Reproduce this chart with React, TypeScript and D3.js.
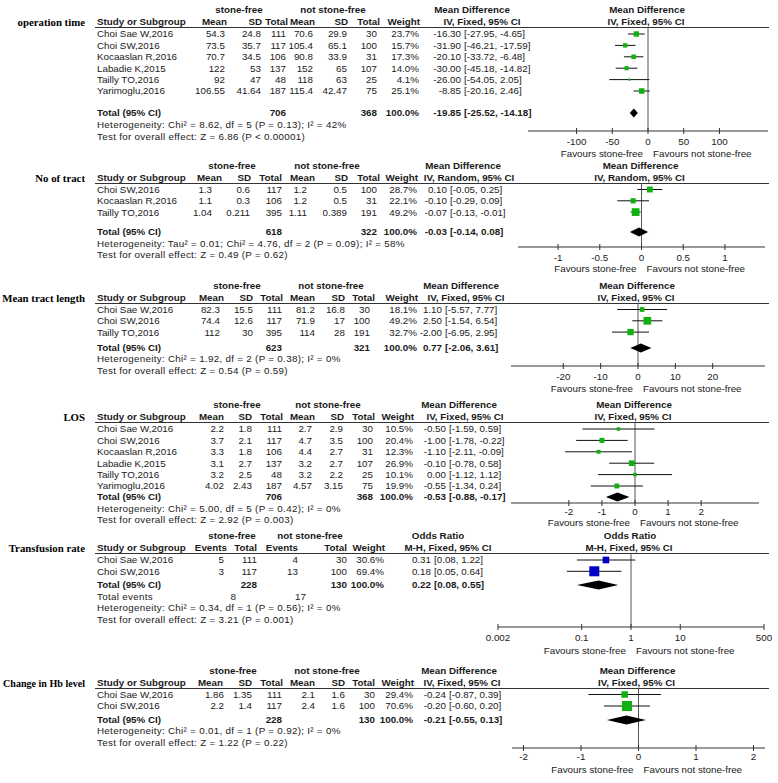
import React from "react";
import * as d3 from "d3";

const SANS = "Arial, 'Liberation Sans', Helvetica, sans-serif";
const SERIF = "'Times New Roman', 'Liberation Serif', serif";
const FS = 9.8;
const TXT = "#1a1a1a";
const GREEN = "#10b010";
const BLUE = "#0000c8";

// ---------- operation time ----------
const opStudy = ["Choi Sae W,2016", "Choi SW,2016", "Kocaaslan R,2016", "Labadie K,2015", "Tailly TO,2016", "Yarimoglu,2016"];
const opM1 = [54.3, 73.5, 70.7, 122, 92, 106.55];
const opS1 = [24.8, 35.7, 34.5, 53, 47, 41.64];
const opN1 = [111, 117, 106, 137, 48, 187];
const opM2 = [70.6, 105.4, 90.8, 152, 118, 115.4];
const opS2 = [29.9, 65.1, 33.9, 65, 63, 42.47];
const opN2 = [30, 100, 31, 107, 25, 75];
const opW = [23.7, 15.7, 17.3, 14.0, 4.1, 25.1];
const opEst = [-16.3, -31.9, -20.1, -30.0, -26.0, -8.85];
const opLo = [-27.95, -46.21, -33.72, -45.18, -54.05, -20.16];
const opHi = [-4.65, -17.59, -6.48, -14.82, 2.05, 2.46];
const opTotN = [706, 368];
const opTotEst = [-19.85, -25.52, -14.18];
const opHet = "Heterogeneity: Chi² = 8.62, df = 5 (P = 0.13); I² = 42%";
const opTest = "Test for overall effect: Z = 6.86 (P < 0.00001)";
const opTicks = [-100, -50, 0, 50, 100];

// ---------- No of tract ----------
const ntStudy = ["Choi SW,2016", "Kocaaslan R,2016", "Tailly TO,2016"];
const ntM1 = [1.3, 1.1, 1.04];
const ntS1 = [0.6, 0.3, 0.211];
const ntN1 = [117, 106, 395];
const ntM2 = [1.2, 1.2, 1.11];
const ntS2 = [0.5, 0.5, 0.389];
const ntN2 = [100, 31, 191];
const ntW = [28.7, 22.1, 49.2];
const ntEst = [0.1, -0.1, -0.07];
const ntLo = [-0.05, -0.29, -0.13];
const ntHi = [0.25, 0.09, -0.01];
const ntTotN = [618, 322];
const ntTotEst = [-0.03, -0.14, 0.08];
const ntHet = "Heterogeneity: Tau² = 0.01; Chi² = 4.76, df = 2 (P = 0.09); I² = 58%";
const ntTest = "Test for overall effect: Z = 0.49 (P = 0.62)";
const ntTicks = [-1, -0.5, 0, 0.5, 1];

// ---------- Mean tract length ----------
const mtStudy = ["Choi Sae W,2016", "Choi SW,2016", "Tailly TO,2016"];
const mtM1 = [82.3, 74.4, 112];
const mtS1 = [15.5, 12.6, 30];
const mtN1 = [111, 117, 395];
const mtM2 = [81.2, 71.9, 114];
const mtS2 = [16.8, 17, 28];
const mtN2 = [30, 100, 191];
const mtW = [18.1, 49.2, 32.7];
const mtEst = [1.1, 2.5, -2.0];
const mtLo = [-5.57, -1.54, -6.95];
const mtHi = [7.77, 6.54, 2.95];
const mtTotN = [623, 321];
const mtTotEst = [0.77, -2.06, 3.61];
const mtHet = "Heterogeneity: Chi² = 1.92, df = 2 (P = 0.38); I² = 0%";
const mtTest = "Test for overall effect: Z = 0.54 (P = 0.59)";
const mtTicks = [-20, -10, 0, 10, 20];

// ---------- LOS ----------
const losStudy = ["Choi Sae W,2016", "Choi SW,2016", "Kocaaslan R,2016", "Labadie K,2015", "Tailly TO,2016", "Yarimoglu,2016"];
const losM1 = [2.2, 3.7, 3.3, 3.1, 3.2, 4.02];
const losS1 = [1.8, 2.1, 1.8, 2.7, 2.5, 2.43];
const losN1 = [111, 117, 106, 137, 48, 187];
const losM2 = [2.7, 4.7, 4.4, 3.2, 3.2, 4.57];
const losS2 = [2.9, 3.5, 2.7, 2.7, 2.2, 3.15];
const losN2 = [30, 100, 31, 107, 25, 75];
const losW = [10.5, 20.4, 12.3, 26.9, 10.1, 19.9];
const losEst = [-0.5, -1.0, -1.1, -0.1, 0.0, -0.55];
const losLo = [-1.59, -1.78, -2.11, -0.78, -1.12, -1.34];
const losHi = [0.59, -0.22, -0.09, 0.58, 1.12, 0.24];
const losTotN = [706, 368];
const losTotEst = [-0.53, -0.88, -0.17];
const losHet = "Heterogeneity: Chi² = 5.00, df = 5 (P = 0.42); I² = 0%";
const losTest = "Test for overall effect: Z = 2.92 (P = 0.003)";
const losTicks = [-2, -1, 0, 1, 2];

// ---------- Transfusion rate ----------
const trStudy = ["Choi Sae W,2016", "Choi SW,2016"];
const trE1 = [5, 3];
const trN1 = [111, 117];
const trE2 = [4, 13];
const trN2 = [30, 100];
const trW = [30.6, 69.4];
const trEst = [0.31, 0.18];
const trLo = [0.08, 0.05];
const trHi = [1.22, 0.64];
const trTotN = [228, 130];
const trTotEst = [0.22, 0.08, 0.55];
const trTotEvents = [8, 17];
const trHet = "Heterogeneity: Chi² = 0.34, df = 1 (P = 0.56); I² = 0%";
const trTest = "Test for overall effect: Z = 3.21 (P = 0.001)";
const trTicks = [0.002, 0.1, 1, 10, 500];

// ---------- Change in Hb level ----------
const hbStudy = ["Choi Sae W,2016", "Choi SW,2016"];
const hbM1 = [1.86, 2.2];
const hbS1 = [1.35, 1.4];
const hbN1 = [111, 117];
const hbM2 = [2.1, 2.4];
const hbS2 = [1.6, 1.6];
const hbN2 = [30, 100];
const hbW = [29.4, 70.6];
const hbEst = [-0.24, -0.2];
const hbLo = [-0.87, -0.6];
const hbHi = [0.39, 0.2];
const hbTotN = [228, 130];
const hbTotEst = [-0.21, -0.55, 0.13];
const hbHet = "Heterogeneity: Chi² = 0.01, df = 1 (P = 0.92); I² = 0%";
const hbTest = "Test for overall effect: Z = 1.22 (P = 0.22)";
const hbTicks = [-2, -1, 0, 1, 2];

type Col = { h: string; hx: number; dx: number; v: number[]; tot?: number };
type Extra = { t: string; vals?: { v: number; x: number }[] };
type Cfg = {
  label: string;
  labelLen?: number;
  groups: { t: string; x: number }[];
  cols: Col[];
  study: string[];
  w: number[];
  est: number[];
  lo: number[];
  hi: number[];
  totEst: number[];
  wx: number;
  ex: number;
  eh1x: number;
  eh2x: number;
  eh1: string;
  eh2: string;
  extra: Extra[];
  ticks: number[];
  log?: boolean;
  domain: [number, number];
  range: [number, number];
  top: number;
  s0: number;
  step: number;
  totalY: number;
  extraY: number[];
  axisY: number;
  tickY: number;
  favY: number;
  color: string;
  boxK: number;
};

const mdCols = (
  m1: number[], s1: number[], n1: number[], m2: number[], s2: number[], n2: number[],
  tot: number[], pos: number[][]
): Col[] => [
  { h: "Mean", hx: pos[0][0], dx: pos[0][1], v: m1 },
  { h: "SD", hx: pos[1][0], dx: pos[1][1], v: s1 },
  { h: "Total", hx: pos[2][0], dx: pos[2][1], v: n1, tot: tot[0] },
  { h: "Mean", hx: pos[3][0], dx: pos[3][1], v: m2 },
  { h: "SD", hx: pos[4][0], dx: pos[4][1], v: s2 },
  { h: "Total", hx: pos[5][0], dx: pos[5][1], v: n2, tot: tot[1] },
];

const panels: Cfg[] = [
  {
    label: "operation time",
    groups: [{ t: "stone-free", x: 239 }, { t: "not stone-free", x: 333 }],
    cols: mdCols(opM1, opS1, opN1, opM2, opS2, opN2, opTotN, [[227, 225], [262, 261], [288, 286], [315, 313], [348, 347], [380, 377]]),
    study: opStudy, w: opW, est: opEst, lo: opLo, hi: opHi, totEst: opTotEst,
    wx: 419, ex: 461, eh1x: 472, eh2x: 482, eh1: "Mean Difference", eh2: "IV, Fixed, 95% CI",
    extra: [{ t: opHet }, { t: opTest }],
    ticks: opTicks, domain: [-168, 168], range: [528, 768],
    top: 10, s0: 34, step: 11.4, totalY: 113, extraY: [125, 137], axisY: 131, tickY: 142, favY: 154,
    color: GREEN, boxK: 1.1,
  },
  {
    label: "No of tract",
    groups: [{ t: "stone-free", x: 232 }, { t: "not stone-free", x: 327 }],
    cols: mdCols(ntM1, ntS1, ntN1, ntM2, ntS2, ntN2, ntTotN, [[222, 212], [251, 250], [282, 282], [315, 307], [348, 347], [380, 377]]),
    study: ntStudy, w: ntW, est: ntEst, lo: ntLo, hi: ntHi, totEst: ntTotEst,
    wx: 417, ex: 447, eh1x: 463, eh2x: 469, eh1: "Mean Difference", eh2: "IV, Random, 95% CI",
    extra: [{ t: ntHet }, { t: ntTest }],
    ticks: ntTicks, domain: [-1.48, 1.48], range: [518, 765],
    top: 166, s0: 189.5, step: 11.3, totalY: 232, extraY: [243.5, 255], axisY: 247, tickY: 258, favY: 269,
    color: GREEN, boxK: 1.1,
  },
  {
    label: "Mean tract length",
    groups: [{ t: "stone-free", x: 237 }, { t: "not stone-free", x: 331 }],
    cols: mdCols(mtM1, mtS1, mtN1, mtM2, mtS2, mtN2, mtTotN, [[224, 220], [253, 253], [283, 282], [315, 315], [345, 345], [375, 370]]),
    study: mtStudy, w: mtW, est: mtEst, lo: mtLo, hi: mtHi, totEst: mtTotEst,
    wx: 417, ex: 442, eh1x: 461, eh2x: 466, eh1: "Mean Difference", eh2: "IV, Fixed, 95% CI",
    extra: [{ t: mtHet }, { t: mtTest }],
    ticks: mtTicks, domain: [-34, 34], range: [511, 765],
    top: 286, s0: 309.5, step: 11.3, totalY: 348, extraY: [359, 370.5], axisY: 366, tickY: 377, favY: 389,
    color: GREEN, boxK: 1.1,
  },
  {
    label: "LOS",
    groups: [{ t: "stone-free", x: 237 }, { t: "not stone-free", x: 328 }],
    cols: mdCols(losM1, losS1, losN1, losM2, losS2, losN2, losTotN, [[224, 224], [252, 252], [283, 282], [315, 312], [344, 343], [375, 373]]),
    study: losStudy, w: losW, est: losEst, lo: losLo, hi: losHi, totEst: losTotEst,
    wx: 413, ex: 446, eh1x: 459, eh2x: 465, eh1: "Mean Difference", eh2: "IV, Fixed, 95% CI",
    extra: [{ t: losHet }, { t: losTest }],
    ticks: losTicks, domain: [-3.75, 3.75], range: [511, 759],
    top: 405, s0: 429, step: 11.4, totalY: 497, extraY: [508.5, 520], axisY: 503, tickY: 512, favY: 523,
    color: GREEN, boxK: 1.1,
  },
  {
    label: "Transfusion rate",
    groups: [{ t: "stone-free", x: 232 }, { t: "not stone-free", x: 310 }],
    cols: [
      { h: "Events", hx: 227, dx: 224, v: trE1 },
      { h: "Total", hx: 257, dx: 257, v: trN1, tot: trTotN[0] },
      { h: "Events", hx: 298, dx: 298, v: trE2 },
      { h: "Total", hx: 347, dx: 347, v: trN2, tot: trTotN[1] },
    ],
    study: trStudy, w: trW, est: trEst, lo: trLo, hi: trHi, totEst: trTotEst,
    wx: 384, ex: 431, eh1x: 438, eh2x: 448, eh1: "Odds Ratio", eh2: "M-H, Fixed, 95% CI",
    extra: [
      { t: "Total events", vals: [{ v: trTotEvents[0], x: 236 }, { v: trTotEvents[1], x: 306 }] },
      { t: trHet },
      { t: trTest },
    ],
    ticks: trTicks, log: true, domain: [0.002, 500], range: [498, 764],
    top: 536, s0: 560, step: 11.3, totalY: 585, extraY: [597, 608, 619.5], axisY: 627, tickY: 637.5, favY: 651,
    color: BLUE, boxK: 1.2,
  },
  {
    label: "Change in Hb level",
    labelLen: 82,
    groups: [{ t: "stone-free", x: 233 }, { t: "not stone-free", x: 327 }],
    cols: mdCols(hbM1, hbS1, hbN1, hbM2, hbS2, hbN2, hbTotN, [[223, 224], [252, 252], [283, 282], [315, 315], [345, 345], [375, 375]]),
    study: hbStudy, w: hbW, est: hbEst, lo: hbLo, hi: hbHi, totEst: hbTotEst,
    wx: 413, ex: 446, eh1x: 459, eh2x: 462, eh1: "Mean Difference", eh2: "IV, Fixed, 95% CI",
    extra: [{ t: hbHet }, { t: hbTest }],
    ticks: hbTicks, domain: [-2.2, 2.2], range: [512, 765],
    top: 671, s0: 694.5, step: 11.5, totalY: 720, extraY: [731, 742.5], axisY: 748, tickY: 757, favY: 770,
    color: GREEN, boxK: 1.2,
  },
];

const T = (p: any) => (
  <text fontFamily={SANS} fontSize={FS} fill={TXT} dy="0.35em" {...p} />
);

function Panel({ c }: { c: Cfg }) {
  const x: any = c.log
    ? d3.scaleLog().domain(c.domain).range(c.range)
    : d3.scaleLinear().domain(c.domain).range(c.range);
  const zero = x(c.log ? 1 : 0);
  const h1 = c.top;
  const h2 = c.top + 12;
  const ul = h2 + 5.5;
  const rowY = (i: number) => c.s0 + c.step * i;
  const ci = (lo: number, hi: number) => `[${lo.toFixed(2)}, ${hi.toFixed(2)}]`;
  const diamond = d3.line()([
    [x(c.totEst[1]), c.totalY],
    [x(c.totEst[0]), c.totalY - 4.5],
    [x(c.totEst[2]), c.totalY],
    [x(c.totEst[0]), c.totalY + 4.5],
  ]) + "Z";
  const labelProps: any = c.labelLen ? { textLength: c.labelLen, lengthAdjust: "spacingAndGlyphs" } : {};
  return (
    <g>
      <text
        x={c.labelLen ? 85 - c.labelLen : 85}
        y={h2}
        dy="0.35em"
        textAnchor={c.labelLen ? "start" : "end"}
        fontFamily={SERIF}
        fontWeight="bold"
        fontSize={10.8}
        fill="#000"
        {...labelProps}
      >
        {c.label}
      </text>
      {c.groups.map((g, i) => (
        <T key={i} x={g.x} y={h1} textAnchor="middle" fontWeight="bold">{g.t}</T>
      ))}
      <T x={c.eh1x} y={h1} textAnchor="middle" fontWeight="bold">{c.eh1}</T>
      <T x={zero - 1} y={h1} textAnchor="middle" fontWeight="bold">{c.eh1}</T>
      <T x={97} y={h2} fontWeight="bold">Study or Subgroup</T>
      {c.cols.map((col, i) => (
        <T key={i} x={col.hx} y={h2} textAnchor="end" fontWeight="bold">{col.h}</T>
      ))}
      <T x={c.wx + 1} y={h2} textAnchor="end" fontWeight="bold">Weight</T>
      <T x={c.eh2x} y={h2} textAnchor="middle" fontWeight="bold">{c.eh2}</T>
      <T x={zero - 2} y={h2} textAnchor="middle" fontWeight="bold">{c.eh2}</T>
      <line x1={95} x2={769} y1={ul} y2={ul} stroke="#333" strokeWidth={1} />
      <line x1={zero} x2={zero} y1={ul} y2={c.axisY} stroke="#555" strokeWidth={1} />
      {c.study.map((s, i) => {
        const y = rowY(i);
        const side = c.boxK * Math.sqrt(c.w[i]);
        return (
          <g key={s + i}>
            <T x={97} y={y}>{s}</T>
            {c.cols.map((col, j) => (
              <T key={j} x={col.dx} y={y} textAnchor="end">{String(col.v[i])}</T>
            ))}
            <T x={c.wx} y={y} textAnchor="end">{c.w[i].toFixed(1) + "%"}</T>
            <T x={c.ex} y={y} textAnchor="end">{c.est[i].toFixed(2)}</T>
            <T x={c.ex + 3} y={y}>{ci(c.lo[i], c.hi[i])}</T>
            <line x1={x(c.lo[i])} x2={x(c.hi[i])} y1={y} y2={y} stroke="#111" strokeWidth={1} />
            <rect x={x(c.est[i]) - side / 2} y={y - side / 2} width={side} height={side} fill={c.color} />
          </g>
        );
      })}
      <T x={97} y={c.totalY} fontWeight="bold">Total (95% CI)</T>
      {c.cols.filter((col) => col.tot !== undefined).map((col, j) => (
        <T key={j} x={col.dx} y={c.totalY} textAnchor="end" fontWeight="bold">{String(col.tot)}</T>
      ))}
      <T x={c.wx} y={c.totalY} textAnchor="end" fontWeight="bold">100.0%</T>
      <T x={c.ex} y={c.totalY} textAnchor="end" fontWeight="bold">{c.totEst[0].toFixed(2)}</T>
      <T x={c.ex + 3} y={c.totalY} fontWeight="bold">{ci(c.totEst[1], c.totEst[2])}</T>
      <path d={diamond} fill="#000" />
      {c.extra.map((e, k) => (
        <g key={k}>
          <T x={97} y={c.extraY[k]} letterSpacing={0.3}>{e.t}</T>
          {(e.vals || []).map((v, j) => (
            <T key={j} x={v.x} y={c.extraY[k]} textAnchor="end">{String(v.v)}</T>
          ))}
        </g>
      ))}
      <line x1={c.range[0]} x2={c.range[1]} y1={c.axisY} y2={c.axisY} stroke="#333" strokeWidth={1} />
      {c.ticks.map((t, i) => (
        <g key={i}>
          <line x1={x(t)} x2={x(t)} y1={c.axisY - 3} y2={c.axisY + 3} stroke="#333" strokeWidth={1} />
          <T x={x(t)} y={c.tickY} textAnchor="middle">{String(t)}</T>
        </g>
      ))}
      <T x={zero - 5} y={c.favY} textAnchor="end">Favours stone-free</T>
      <T x={zero + 5} y={c.favY}>Favours not stone-free</T>
    </g>
  );
}

export default function App() {
  return (
    <svg
      width={778}
      height={783}
      viewBox="0 0 778 783"
      style={{ position: "absolute", left: 0, top: 0, background: "#fff" }}
    >
      <rect width={778} height={783} fill="#fff" />
      {panels.map((c, i) => (
        <Panel key={i} c={c} />
      ))}
    </svg>
  );
}
